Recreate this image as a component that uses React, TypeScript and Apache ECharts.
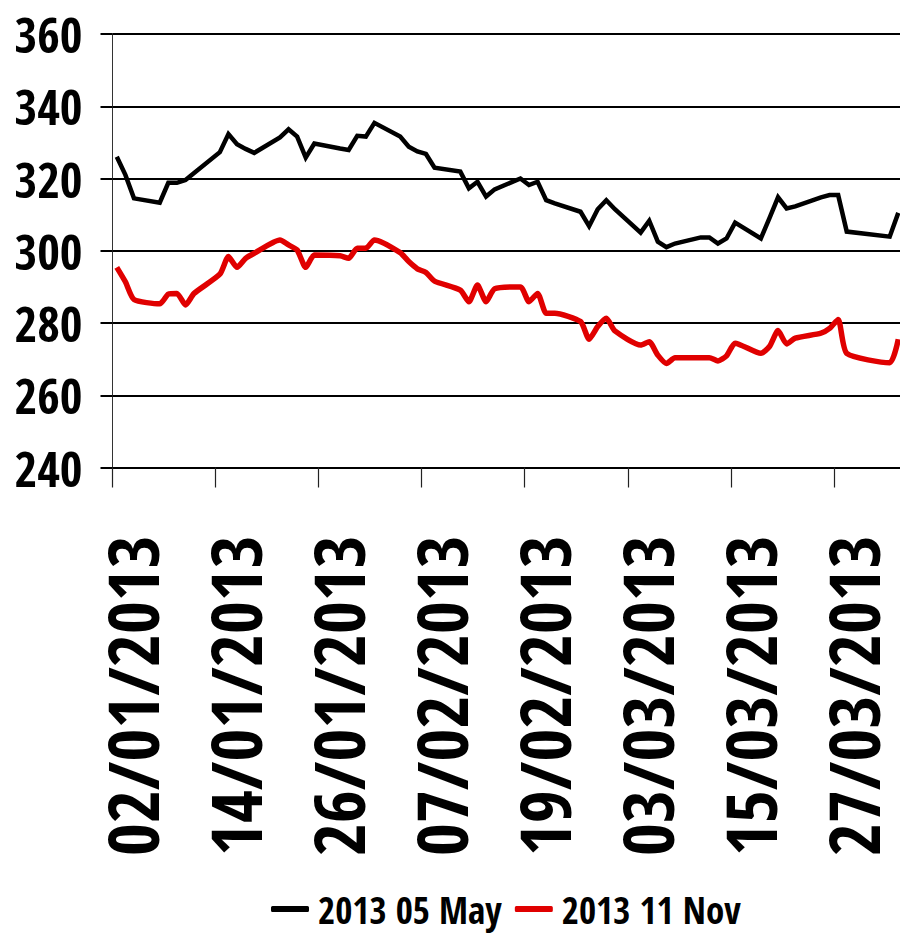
import React, { useEffect, useRef } from "react";
import * as echarts from "echarts";

const seriesNames = ["2013 05 May", "2013 11 Nov"];

const tradingDays = [
  "2013-01-02", "2013-01-03", "2013-01-04",
  "2013-01-07", "2013-01-08", "2013-01-09", "2013-01-10", "2013-01-11",
  "2013-01-14", "2013-01-15", "2013-01-16", "2013-01-17", "2013-01-18",
  "2013-01-21", "2013-01-22", "2013-01-23", "2013-01-24", "2013-01-25",
  "2013-01-28", "2013-01-29", "2013-01-30", "2013-01-31", "2013-02-01",
  "2013-02-04", "2013-02-05", "2013-02-06", "2013-02-07", "2013-02-08",
  "2013-02-11", "2013-02-12", "2013-02-13", "2013-02-14", "2013-02-15",
  "2013-02-18", "2013-02-19", "2013-02-20", "2013-02-21", "2013-02-22",
  "2013-02-25", "2013-02-26", "2013-02-27", "2013-02-28", "2013-03-01",
  "2013-03-04", "2013-03-05", "2013-03-06", "2013-03-07", "2013-03-08",
  "2013-03-11", "2013-03-12", "2013-03-13", "2013-03-14", "2013-03-15",
  "2013-03-18", "2013-03-19", "2013-03-20", "2013-03-21", "2013-03-22",
  "2013-03-25", "2013-03-26", "2013-03-27", "2013-03-28",
  "2013-04-02", "2013-04-03",
];

const may2013 = [
  326.0, 321.0, 314.5,
  313.3, 318.8, 318.8, 319.6, 321.5,
  327.3, 332.3, 329.5, 328.2, 327.1,
  331.4, 333.6, 331.6, 325.8, 329.7,
  328.3, 327.9, 331.8, 331.6, 335.4,
  331.6, 328.8, 327.5, 326.8, 323.0,
  321.9, 317.3, 319.1, 315.0, 317.0,
  320.0, 318.2, 319.1, 314.0, 313.1,
  310.8, 306.8, 311.5, 314.0, 311.5,
  305.0, 308.3, 302.5, 301.0, 302.0,
  303.7, 303.7, 302.0, 303.4, 307.8,
  303.4, 309.0, 314.8, 311.7, 312.3,
  314.8, 315.4, 315.4, 305.3,
  303.9, 310.5,
];

const nov2013 = [
  295.4, 291.4, 286.5,
  285.3, 288.0, 288.2, 285.0, 288.2,
  293.5, 298.4, 295.4, 297.9, 299.3,
  303.0, 301.6, 300.2, 295.4, 298.8,
  298.6, 297.9, 300.7, 300.7, 303.0,
  299.5, 297.0, 295.0, 294.0, 291.6,
  289.1, 285.9, 290.5, 285.9, 289.5,
  290.0, 285.9, 288.2, 282.7, 282.7,
  280.4, 275.5, 279.0, 281.3, 277.8,
  273.9, 274.8, 271.1, 268.8, 270.4,
  270.4, 270.4, 269.5, 270.9, 274.4,
  271.6, 273.5, 277.9, 274.2, 275.8,
  277.2, 278.5, 281.0, 271.6,
  269.0, 275.5,
];

const tickLabels = [
  "02/01/2013", "14/01/2013", "26/01/2013", "07/02/2013",
  "19/02/2013", "03/03/2013", "15/03/2013", "27/03/2013",
];

const yMin = 240;
const yMax = 360;
const yStep = 20;

const DAY = 86400000;
const origin = Date.UTC(2013, 0, 2);
const isoToOffset = (s: string) => {
  const [y, m, d] = s.split("-").map(Number);
  return (Date.UTC(y, m - 1, d) - origin) / DAY;
};
const labelToOffset = (s: string) => {
  const [d, m, y] = s.split("/").map(Number);
  return (Date.UTC(y, m - 1, d) - origin) / DAY;
};
const offsetToLabel = (v: number) => {
  const dt = new Date(origin + Math.round(v) * DAY);
  const dd = String(dt.getUTCDate()).padStart(2, "0");
  const mm = String(dt.getUTCMonth() + 1).padStart(2, "0");
  return `${dd}/${mm}/${dt.getUTCFullYear()}`;
};

const FONT = "'Open Sans Condensed', 'Roboto Condensed', 'DejaVu Sans Condensed', sans-serif";

export default function App() {
  const ref = useRef<HTMLDivElement>(null);
  useEffect(() => {
    if (!ref.current) return;
    const chart = echarts.init(ref.current, null, { renderer: "svg" });
    const tickValues = tickLabels.map(labelToOffset);
    const mk = (vals: number[]) =>
      tradingDays.map((d, i) => [isoToOffset(d) + 0.5, vals[i]]);
    chart.setOption({
      animation: false,
      backgroundColor: "#ffffff",
      grid: {
        left: 112.5,
        right: 0,
        top: 34,
        height: 433.5,
        containLabel: false,
        outerBoundsMode: "none",
      },
      xAxis: {
        type: "value",
        min: 0,
        max: 91.7,
        interval: 12,
        splitLine: { show: false },
        axisLine: { show: true, lineStyle: { color: "#000", width: 2 } },
        axisTick: {
          show: true,
          inside: false,
          length: 20,
          lineStyle: { color: "#222", width: 1.2 },
          customValues: tickValues,
        },
        axisLabel: {
          show: true,
          rotate: 90,
          margin: 68,
          customValues: tickValues,
          formatter: (v: number) => offsetToLabel(v),
          fontFamily: FONT,
          fontWeight: "bold",
          fontSize: 71,
          lineHeight: 38,
          verticalAlign: "top",
          color: "#000",
        },
      },
      yAxis: {
        type: "value",
        min: yMin,
        max: yMax,
        interval: yStep,
        axisLine: { show: true, lineStyle: { color: "#333", width: 1 } },
        axisTick: { show: true, length: 12, lineStyle: { color: "#000", width: 2 } },
        splitLine: { show: true, lineStyle: { color: "#000", width: 2 } },
        axisLabel: {
          margin: 30,
          fontFamily: FONT,
          fontWeight: "bold",
          fontSize: 49,
          lineHeight: 44,
          color: "#000",
        },
      },
      legend: {
        left: 266,
        top: 884,
        itemGap: 13,
        itemWidth: 38,
        itemHeight: 6,
        icon: "roundRect",
        data: seriesNames,
        textStyle: {
          fontFamily: FONT,
          fontWeight: "bold",
          fontSize: 37,
          lineHeight: 40,
          color: "#000",
          padding: [0, 0, 0, 4],
        },
      },
      series: [
        {
          name: seriesNames[0],
          type: "line",
          data: mk(may2013),
          showSymbol: false,
          symbol: "none",
          lineStyle: { color: "#000", width: 4.5, join: "miter" },
          itemStyle: { color: "#000" },
        },
        {
          name: seriesNames[1],
          type: "line",
          data: mk(nov2013),
          showSymbol: false,
          symbol: "none",
          smooth: 0.2,
          lineStyle: { color: "#e00000", width: 5.5 },
          itemStyle: { color: "#e00000" },
        },
      ],
    });
    return () => chart.dispose();
  }, []);
  return (
    <div
      ref={ref}
      style={{ position: "fixed", left: 0, top: 0, width: 900, height: 938, background: "#fff" }}
    />
  );
}
